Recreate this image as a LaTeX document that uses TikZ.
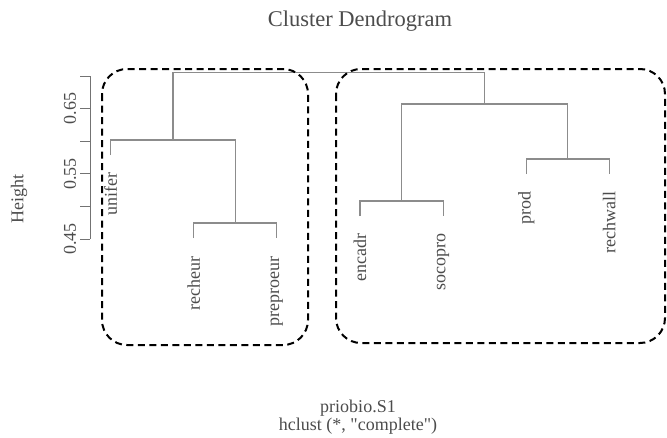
\documentclass[tikz,border=0pt]{standalone}
\usepackage{fontspec}
\setmainfont{Liberation Serif}
\newfontfamily\rawserif{Liberation Serif}[Ligatures=TeXOff]
\begin{document}
\begin{tikzpicture}[x=1pt,y=-1pt,
  branch/.style={draw=black!45,line width=1.1pt},
  axisline/.style={draw=black!55,line width=1pt},
  leaflabel/.style={rotate=90,anchor=east,inner sep=0pt,text=black!70,font=\fontsize{18}{18}\selectfont},
  ticklabel/.style={rotate=90,anchor=center,inner sep=0pt,text=black!70,font=\fontsize{18}{18}\selectfont},
  plaintext/.style={inner sep=0pt,text=black!70,font=\fontsize{18}{18}\selectfont},
  groupbox/.style={draw=black,line width=2pt,dash pattern=on 7pt off 4.5pt,rounded corners=25pt}]
\useasboundingbox (0,0) rectangle (667,437);

% titles
\node[plaintext,anchor=base,font=\fontsize{22.5}{22.5}\selectfont] (title) at (360,26) {Cluster Dendrogram};
\node[plaintext,anchor=base] (sub1) at (358,412) {priobio.S1};
\node[plaintext,anchor=base,font=\fontsize{18}{18}\rawserif] (sub2) at (358,430) {hclust (*, "complete")};

% height axis
\coordinate (atop) at (90,76);
\coordinate (abot) at (90,239);
\draw[axisline] (atop) -- (abot);
\foreach \k/\y in {0/239,1/206.4,2/173.8,3/141.2,4/108.6,5/76}
  \draw[axisline] (80,\y) -- (90,\y);
\node[ticklabel] (t045) at (70,239) {0.45};
\node[ticklabel] (t055) at (70,173.8) {0.55};
\node[ticklabel] (t065) at (70,108.6) {0.65};
\node[ticklabel] (ylab) at (19,199) {Height};

% leaf tips
\coordinate (unifer)    at (110.7,155);
\coordinate (recheur)   at (193.8,238);
\coordinate (preproeur) at (276.9,238);
\coordinate (encadr)    at (360,216);
\coordinate (socopro)   at (443.1,216);
\coordinate (prod)      at (526.2,174);
\coordinate (rechwall)  at (609.3,174);

% merge points
\coordinate (m1) at (235.35,223);
\coordinate (m2) at (173.0,140);
\coordinate (m3) at (401.55,201);
\coordinate (m4) at (567.75,159);
\coordinate (m5) at (484.65,104);
\coordinate (m6) at (328.8,72.5);

% branches
\draw[branch] (recheur) |- (m1) -| (preproeur);
\draw[branch] (unifer) |- (m2) -| (m1);
\draw[branch] (encadr) |- (m3) -| (socopro);
\draw[branch] (prod) |- (m4) -| (rechwall);
\draw[branch] (m3) |- (m5) -| (m4);
\draw[branch] (m2) |- (m6) -| (m5);

% leaf labels
\node[leaflabel] (l-unifer)    at (110.7,172) {unifer};
\node[leaflabel] (l-recheur)   at (193.8,256) {recheur};
\node[leaflabel] (l-preproeur) at (276.9,256) {preproeur};
\node[leaflabel] (l-encadr)    at (360,233) {encadr};
\node[leaflabel] (l-socopro)   at (443.1,233) {socopro};
\node[leaflabel] (l-prod)      at (526.2,191) {prod};
\node[leaflabel] (l-rechwall)  at (609.3,191) {rechwall};

% cluster outlines
\draw[groupbox] (102,69) rectangle (308,345);
\draw[groupbox] (336,69) rectangle (665,343);
\end{tikzpicture}
\end{document}
